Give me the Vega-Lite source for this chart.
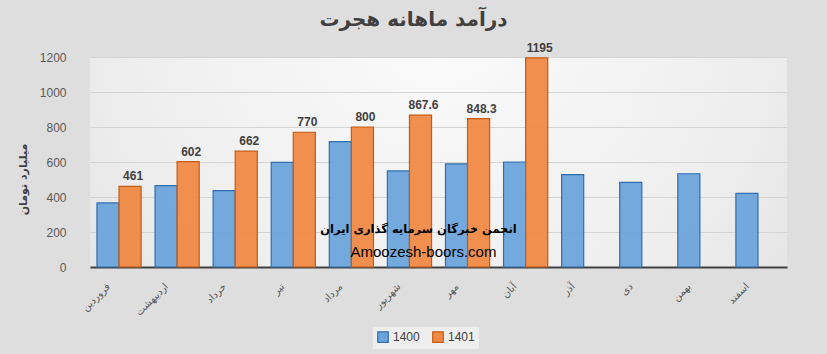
{
  "$schema": "https://vega.github.io/schema/vega-lite/v6.json",
  "width": 697,
  "height": 210,
  "autosize": {"type": "none"},
  "padding": {"left": 90, "top": 57, "right": 40, "bottom": 87},
  "background": "#dedede",
  "view": {
    "stroke": null,
    "fill": {"gradient": "radial", "x1": 0.5, "y1": 0.3, "r1": 0, "x2": 0.5, "y2": 0.3, "r2": 0.75,
      "stops": [{"offset": 0, "color": "#fbfbfb"}, {"offset": 0.6, "color": "#eeeeee"}, {"offset": 1, "color": "#dedede"}]}
  },
  "title": {
    "text": "درآمد ماهانه هجرت",
    "fontSize": 20,
    "fontWeight": "bold",
    "font": "DejaVu Sans",
    "color": "#404040",
    "anchor": "middle",
    "frame": "group",
    "offset": 12,
    "dx": -25
  },
  "datasets": {
    "bars": [
      {"month": "فروردین", "year": "1400", "value": 366},
      {"month": "اردیبهشت", "year": "1400", "value": 465},
      {"month": "خرداد", "year": "1400", "value": 436},
      {"month": "تیر", "year": "1400", "value": 598},
      {"month": "مرداد", "year": "1400", "value": 716},
      {"month": "شهریور", "year": "1400", "value": 549},
      {"month": "مهر", "year": "1400", "value": 589},
      {"month": "آبان", "year": "1400", "value": 600},
      {"month": "آذر", "year": "1400", "value": 528},
      {"month": "دی", "year": "1400", "value": 484},
      {"month": "بهمن", "year": "1400", "value": 533},
      {"month": "اسفند", "year": "1400", "value": 421},
      {"month": "فروردین", "year": "1401", "value": 461, "label": "461"},
      {"month": "اردیبهشت", "year": "1401", "value": 602, "label": "602"},
      {"month": "خرداد", "year": "1401", "value": 662, "label": "662"},
      {"month": "تیر", "year": "1401", "value": 770, "label": "770"},
      {"month": "مرداد", "year": "1401", "value": 800, "label": "800"},
      {"month": "شهریور", "year": "1401", "value": 867.6, "label": "867.6"},
      {"month": "مهر", "year": "1401", "value": 848.3, "label": "848.3"},
      {"month": "آبان", "year": "1401", "value": 1195, "label": "1195"}
    ],
    "mark": [
      {"month": "شهریور", "value": 211, "text": "انجمن خبرگان سرمایه گذاری ایران", "line": 1},
      {"month": "شهریور", "value": 86, "text": "Amoozesh-boors.com", "line": 2}
    ]
  },
  "encoding": {
    "x": {
      "field": "month",
      "type": "nominal",
      "scale": {"domain": ["فروردین", "اردیبهشت", "خرداد", "تیر", "مرداد", "شهریور", "مهر", "آبان", "آذر", "دی", "بهمن", "اسفند"], "paddingInner": 0.24, "paddingOuter": 0.12},
      "axis": {
        "title": null,
        "labelAngle": -45,
        "labelFontSize": 10,
        "labelColor": "#595959",
        "labelFont": "DejaVu Sans",
        "labelOffset": -14,
        "labelPadding": 14,
        "ticks": false,
        "domainColor": "#404040",
        "domainWidth": 2
      }
    },
    "y": {
      "field": "value",
      "type": "quantitative",
      "scale": {"domain": [0, 1200]},
      "axis": {
        "title": "میلیارد تومان",
        "titleFont": "DejaVu Sans",
        "titleFontSize": 11,
        "titleFontWeight": "bold",
        "titleColor": "#404040",
        "titleX": -62,
        "titleY": 122,
        "values": [0, 200, 400, 600, 800, 1000, 1200],
        "format": "d",
        "labelFontSize": 12,
        "labelColor": "#595959",
        "labelFont": "Liberation Sans",
        "labelPadding": 24,
        "labelOverlap": false,
        "ticks": false,
        "domain": false,
        "gridColor": "#d4d4d4",
        "gridWidth": 1
      }
    }
  },
  "layer": [
    {
      "data": {"name": "bars"},
      "mark": {"type": "bar", "strokeWidth": 1.2, "fillOpacity": 0.95},
      "encoding": {
        "xOffset": {"field": "year", "type": "nominal", "scale": {"domain": ["1400", "1401"], "paddingInner": 0}},
        "fill": {
          "field": "year",
          "type": "nominal",
          "scale": {"domain": ["1400", "1401"], "range": ["#6ba4da", "#f08a45"]},
          "legend": {
            "title": null,
            "orient": "none",
            "direction": "horizontal",
            "legendX": 283,
            "legendY": 270,
            "symbolType": "square",
            "symbolSize": 110,
            "symbolStrokeWidth": 1.2,
            "labelFontSize": 12,
            "labelFont": "Liberation Sans",
            "labelColor": "#404040",
            "columnPadding": 10,
            "fillColor": "#eeeeee",
            "padding": 4
          }
        },
        "stroke": {
          "field": "year",
          "type": "nominal",
          "scale": {"domain": ["1400", "1401"], "range": ["#2f6eb0", "#c55a11"]},
          "legend": null
        }
      }
    },
    {
      "data": {"name": "bars"},
      "transform": [{"filter": "datum.label != null"}],
      "mark": {"type": "text", "dy": -10, "dx": 3, "fontSize": 12, "fontWeight": "bold", "font": "Liberation Sans", "color": "#404040"},
      "encoding": {
        "xOffset": {"field": "year", "type": "nominal", "scale": {"domain": ["1400", "1401"], "paddingInner": 0}},
        "text": {"field": "label"}
      }
    },
    {
      "data": {"name": "mark"},
      "transform": [{"filter": "datum.line == 1"}],
      "mark": {"type": "text", "fontSize": 11.5, "fontWeight": "bold", "font": "DejaVu Sans", "color": "#000000", "dx": 9},
      "encoding": {
        "text": {"field": "text"}
      }
    },
    {
      "data": {"name": "mark"},
      "transform": [{"filter": "datum.line == 2"}],
      "mark": {"type": "text", "fontSize": 15, "font": "Liberation Sans", "color": "#000000", "dx": 14},
      "encoding": {
        "text": {"field": "text"}
      }
    }
  ]
}
